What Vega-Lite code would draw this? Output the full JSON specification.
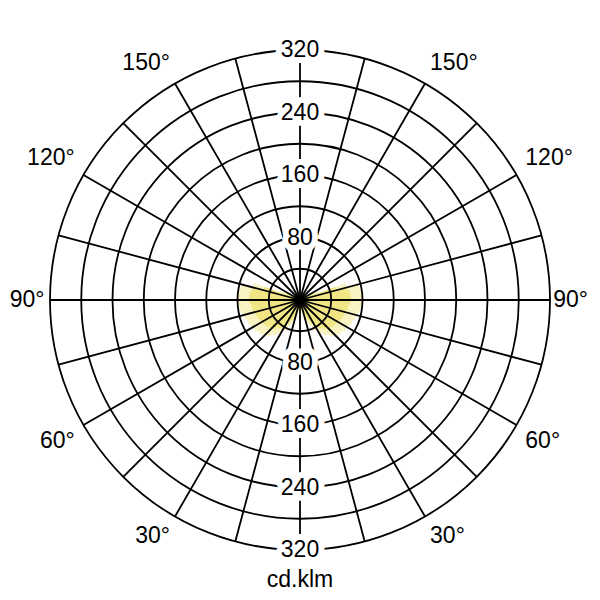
{
  "$schema": "https://vega.github.io/schema/vega-lite/v6.json",
  "description": "Polar light distribution diagram (cd/klm).",
  "width": 600,
  "height": 600,
  "autosize": {"type": "none"},
  "padding": 0,
  "background": "white",
  "config": {"view": {"stroke": null}},
  "datasets": {
    "lobe": [
      {"a0": 0, "a1": 5, "cd": 10, "ci": 8}, {"a0": 5, "a1": 10, "cd": 14, "ci": 11},
      {"a0": 10, "a1": 15, "cd": 20, "ci": 16}, {"a0": 15, "a1": 20, "cd": 27, "ci": 21},
      {"a0": 20, "a1": 25, "cd": 35, "ci": 28}, {"a0": 25, "a1": 30, "cd": 43, "ci": 34},
      {"a0": 30, "a1": 35, "cd": 50, "ci": 40}, {"a0": 35, "a1": 40, "cd": 56, "ci": 45},
      {"a0": 40, "a1": 45, "cd": 61, "ci": 49}, {"a0": 45, "a1": 50, "cd": 65, "ci": 52},
      {"a0": 50, "a1": 55, "cd": 67, "ci": 54}, {"a0": 55, "a1": 60, "cd": 69, "ci": 55},
      {"a0": 60, "a1": 65, "cd": 71, "ci": 57}, {"a0": 65, "a1": 70, "cd": 72, "ci": 58},
      {"a0": 70, "a1": 75, "cd": 74, "ci": 59}, {"a0": 75, "a1": 80, "cd": 76, "ci": 61},
      {"a0": 80, "a1": 85, "cd": 78, "ci": 62}, {"a0": 85, "a1": 90, "cd": 80, "ci": 64},
      {"a0": 90, "a1": 95, "cd": 81, "ci": 65}, {"a0": 95, "a1": 100, "cd": 80, "ci": 64},
      {"a0": 100, "a1": 105, "cd": 77, "ci": 62}, {"a0": 105, "a1": 110, "cd": 62, "ci": 48},
      {"a0": 110, "a1": 115, "cd": 25, "ci": 18}, {"a0": 115, "a1": 120, "cd": 8, "ci": 5},
      {"a0": 0, "a1": -5, "cd": 10, "ci": 8}, {"a0": -5, "a1": -10, "cd": 14, "ci": 11},
      {"a0": -10, "a1": -15, "cd": 20, "ci": 16}, {"a0": -15, "a1": -20, "cd": 27, "ci": 21},
      {"a0": -20, "a1": -25, "cd": 35, "ci": 28}, {"a0": -25, "a1": -30, "cd": 43, "ci": 34},
      {"a0": -30, "a1": -35, "cd": 50, "ci": 40}, {"a0": -35, "a1": -40, "cd": 56, "ci": 45},
      {"a0": -40, "a1": -45, "cd": 61, "ci": 49}, {"a0": -45, "a1": -50, "cd": 65, "ci": 52},
      {"a0": -50, "a1": -55, "cd": 67, "ci": 54}, {"a0": -55, "a1": -60, "cd": 69, "ci": 55},
      {"a0": -60, "a1": -65, "cd": 71, "ci": 57}, {"a0": -65, "a1": -70, "cd": 72, "ci": 58},
      {"a0": -70, "a1": -75, "cd": 74, "ci": 59}, {"a0": -75, "a1": -80, "cd": 76, "ci": 61},
      {"a0": -80, "a1": -85, "cd": 78, "ci": 62}, {"a0": -85, "a1": -90, "cd": 80, "ci": 64},
      {"a0": -90, "a1": -95, "cd": 81, "ci": 65}, {"a0": -95, "a1": -100, "cd": 80, "ci": 64},
      {"a0": -100, "a1": -105, "cd": 77, "ci": 62}, {"a0": -105, "a1": -110, "cd": 62, "ci": 48},
      {"a0": -110, "a1": -115, "cd": 25, "ci": 18}, {"a0": -115, "a1": -120, "cd": 8, "ci": 5}
    ],
    "rings": [{"r": 40}, {"r": 80}, {"r": 120}, {"r": 160}, {"r": 200}, {"r": 240}, {"r": 280}, {"r": 320}],
    "spokes": [
      {"a": -165, "r": 320}, {"a": -150, "r": 320}, {"a": -135, "r": 320}, {"a": -120, "r": 320},
      {"a": -105, "r": 320}, {"a": -90, "r": 320}, {"a": -75, "r": 320}, {"a": -60, "r": 320},
      {"a": -45, "r": 320}, {"a": -30, "r": 320}, {"a": -15, "r": 320}, {"a": 0, "r": 320},
      {"a": 15, "r": 320}, {"a": 30, "r": 320}, {"a": 45, "r": 320}, {"a": 60, "r": 320},
      {"a": 75, "r": 320}, {"a": 90, "r": 320}, {"a": 105, "r": 320}, {"a": 120, "r": 320},
      {"a": 135, "r": 320}, {"a": 150, "r": 320}, {"a": 165, "r": 320}, {"a": 180, "r": 320}
    ],
    "ringlab": [
      {"t": "80", "a": 180, "r": 80}, {"t": "160", "a": 180, "r": 160},
      {"t": "240", "a": 180, "r": 240}, {"t": "320", "a": 180, "r": 320},
      {"t": "80", "a": 0, "r": 80}, {"t": "160", "a": 0, "r": 160},
      {"t": "240", "a": 0, "r": 240}, {"t": "320", "a": 0, "r": 320},
      {"t": "cd.klm", "a": 0, "r": 358}
    ],
    "anglab": [
      {"t": "150°", "a": 150, "g": "UL"}, {"t": "120°", "a": 120, "g": "UL"},
      {"t": "150°", "a": -150, "g": "UR"}, {"t": "120°", "a": -120, "g": "UR"},
      {"t": "60°", "a": 60, "g": "LL"}, {"t": "30°", "a": 30, "g": "LL"},
      {"t": "60°", "a": -60, "g": "LR"}, {"t": "30°", "a": -30, "g": "LR"},
      {"t": "90°", "a": 90, "g": "ML"}, {"t": "90°", "a": -90, "g": "MR"}
    ]
  },
  "layer": [
    {
      "data": {"name": "lobe"},
      "mark": {"type": "arc", "fill": "#f8f3c0", "stroke": "#f8f3c0", "strokeWidth": 0.6},
      "encoding": {
        "theta": {"field": "a0", "type": "quantitative", "stack": null,
          "scale": {"type": "linear", "domain": [-180, 180], "range": [0, 6.283185307179586], "nice": false, "zero": false}},
        "theta2": {"field": "a1"},
        "radius": {"field": "cd", "type": "quantitative", "stack": null,
          "scale": {"type": "linear", "domain": [0, 320], "range": [0, 250], "nice": false, "zero": true}}
      }
    },
    {
      "data": {"name": "lobe"},
      "mark": {"type": "arc", "fill": "#f0e684", "stroke": "#f0e684", "strokeWidth": 0.6},
      "encoding": {
        "theta": {"field": "a0", "type": "quantitative", "stack": null,
          "scale": {"type": "linear", "domain": [-180, 180], "range": [0, 6.283185307179586], "nice": false, "zero": false}},
        "theta2": {"field": "a1"},
        "radius": {"field": "ci", "type": "quantitative", "stack": null,
          "scale": {"type": "linear", "domain": [0, 320], "range": [0, 250], "nice": false, "zero": true}}
      }
    },
    {
      "data": {"name": "rings"},
      "mark": {"type": "arc", "fill": "transparent", "stroke": "#000000", "strokeWidth": 1.8},
      "encoding": {
        "theta": {"datum": -180, "type": "quantitative", "stack": null,
          "scale": {"type": "linear", "domain": [-180, 180], "range": [0, 6.283185307179586], "nice": false, "zero": false}},
        "theta2": {"datum": 180},
        "radius": {"field": "r", "type": "quantitative", "stack": null,
          "scale": {"type": "linear", "domain": [0, 320], "range": [0, 250], "nice": false, "zero": true}}
      }
    },
    {
      "data": {"name": "spokes"},
      "mark": {"type": "arc", "fill": "transparent", "stroke": "#000000", "strokeWidth": 1.8},
      "encoding": {
        "theta": {"field": "a", "type": "quantitative", "stack": null,
          "scale": {"type": "linear", "domain": [-180, 180], "range": [0, 6.283185307179586], "nice": false, "zero": false}},
        "theta2": {"field": "a"},
        "radius": {"field": "r", "type": "quantitative", "stack": null,
          "scale": {"type": "linear", "domain": [0, 320], "range": [0, 250], "nice": false, "zero": true}},
        "radius2": {"datum": 0}
      }
    },
    {
      "data": {"name": "ringlab"},
      "mark": {"type": "text", "font": "Liberation Sans", "fontSize": 23, "align": "center", "baseline": "middle",
        "fill": "white", "stroke": "white", "strokeWidth": 12, "strokeJoin": "round"},
      "encoding": {
        "theta": {"field": "a", "type": "quantitative", "stack": null,
          "scale": {"type": "linear", "domain": [-180, 180], "range": [0, 6.283185307179586], "nice": false, "zero": false}},
        "radius": {"field": "r", "type": "quantitative", "stack": null,
          "scale": {"type": "linear", "domain": [0, 320], "range": [0, 250], "nice": false, "zero": true}},
        "text": {"field": "t"}
      }
    },
    {
      "data": {"name": "ringlab"},
      "mark": {"type": "text", "font": "Liberation Sans", "fontSize": 23, "align": "center", "baseline": "middle", "fill": "#000000"},
      "encoding": {
        "theta": {"field": "a", "type": "quantitative", "stack": null,
          "scale": {"type": "linear", "domain": [-180, 180], "range": [0, 6.283185307179586], "nice": false, "zero": false}},
        "radius": {"field": "r", "type": "quantitative", "stack": null,
          "scale": {"type": "linear", "domain": [0, 320], "range": [0, 250], "nice": false, "zero": true}},
        "text": {"field": "t"}
      }
    },
    {
      "data": {"name": "anglab"},
      "transform": [{"filter": "datum.g === 'UL'"}],
      "mark": {"type": "text", "font": "Liberation Sans", "fontSize": 23, "align": "right", "baseline": "bottom", "fill": "#000000"},
      "encoding": {
        "theta": {"field": "a", "type": "quantitative", "stack": null,
          "scale": {"type": "linear", "domain": [-180, 180], "range": [0, 6.283185307179586], "nice": false, "zero": false}},
        "radius": {"datum": 333, "type": "quantitative", "stack": null,
          "scale": {"type": "linear", "domain": [0, 320], "range": [0, 250], "nice": false, "zero": true}},
        "text": {"field": "t"}
      }
    },
    {
      "data": {"name": "anglab"},
      "transform": [{"filter": "datum.g === 'UR'"}],
      "mark": {"type": "text", "font": "Liberation Sans", "fontSize": 23, "align": "left", "baseline": "bottom", "fill": "#000000"},
      "encoding": {
        "theta": {"field": "a", "type": "quantitative", "stack": null,
          "scale": {"type": "linear", "domain": [-180, 180], "range": [0, 6.283185307179586], "nice": false, "zero": false}},
        "radius": {"datum": 333, "type": "quantitative", "stack": null,
          "scale": {"type": "linear", "domain": [0, 320], "range": [0, 250], "nice": false, "zero": true}},
        "text": {"field": "t"}
      }
    },
    {
      "data": {"name": "anglab"},
      "transform": [{"filter": "datum.g === 'LL'"}],
      "mark": {"type": "text", "font": "Liberation Sans", "fontSize": 23, "align": "right", "baseline": "top", "fill": "#000000"},
      "encoding": {
        "theta": {"field": "a", "type": "quantitative", "stack": null,
          "scale": {"type": "linear", "domain": [-180, 180], "range": [0, 6.283185307179586], "nice": false, "zero": false}},
        "radius": {"datum": 333, "type": "quantitative", "stack": null,
          "scale": {"type": "linear", "domain": [0, 320], "range": [0, 250], "nice": false, "zero": true}},
        "text": {"field": "t"}
      }
    },
    {
      "data": {"name": "anglab"},
      "transform": [{"filter": "datum.g === 'LR'"}],
      "mark": {"type": "text", "font": "Liberation Sans", "fontSize": 23, "align": "left", "baseline": "top", "fill": "#000000"},
      "encoding": {
        "theta": {"field": "a", "type": "quantitative", "stack": null,
          "scale": {"type": "linear", "domain": [-180, 180], "range": [0, 6.283185307179586], "nice": false, "zero": false}},
        "radius": {"datum": 333, "type": "quantitative", "stack": null,
          "scale": {"type": "linear", "domain": [0, 320], "range": [0, 250], "nice": false, "zero": true}},
        "text": {"field": "t"}
      }
    },
    {
      "data": {"name": "anglab"},
      "transform": [{"filter": "datum.g === 'ML'"}],
      "mark": {"type": "text", "font": "Liberation Sans", "fontSize": 23, "align": "right", "baseline": "middle", "fill": "#000000"},
      "encoding": {
        "theta": {"field": "a", "type": "quantitative", "stack": null,
          "scale": {"type": "linear", "domain": [-180, 180], "range": [0, 6.283185307179586], "nice": false, "zero": false}},
        "radius": {"datum": 327, "type": "quantitative", "stack": null,
          "scale": {"type": "linear", "domain": [0, 320], "range": [0, 250], "nice": false, "zero": true}},
        "text": {"field": "t"}
      }
    },
    {
      "data": {"name": "anglab"},
      "transform": [{"filter": "datum.g === 'MR'"}],
      "mark": {"type": "text", "font": "Liberation Sans", "fontSize": 23, "align": "left", "baseline": "middle", "fill": "#000000"},
      "encoding": {
        "theta": {"field": "a", "type": "quantitative", "stack": null,
          "scale": {"type": "linear", "domain": [-180, 180], "range": [0, 6.283185307179586], "nice": false, "zero": false}},
        "radius": {"datum": 324, "type": "quantitative", "stack": null,
          "scale": {"type": "linear", "domain": [0, 320], "range": [0, 250], "nice": false, "zero": true}},
        "text": {"field": "t"}
      }
    }
  ]
}
